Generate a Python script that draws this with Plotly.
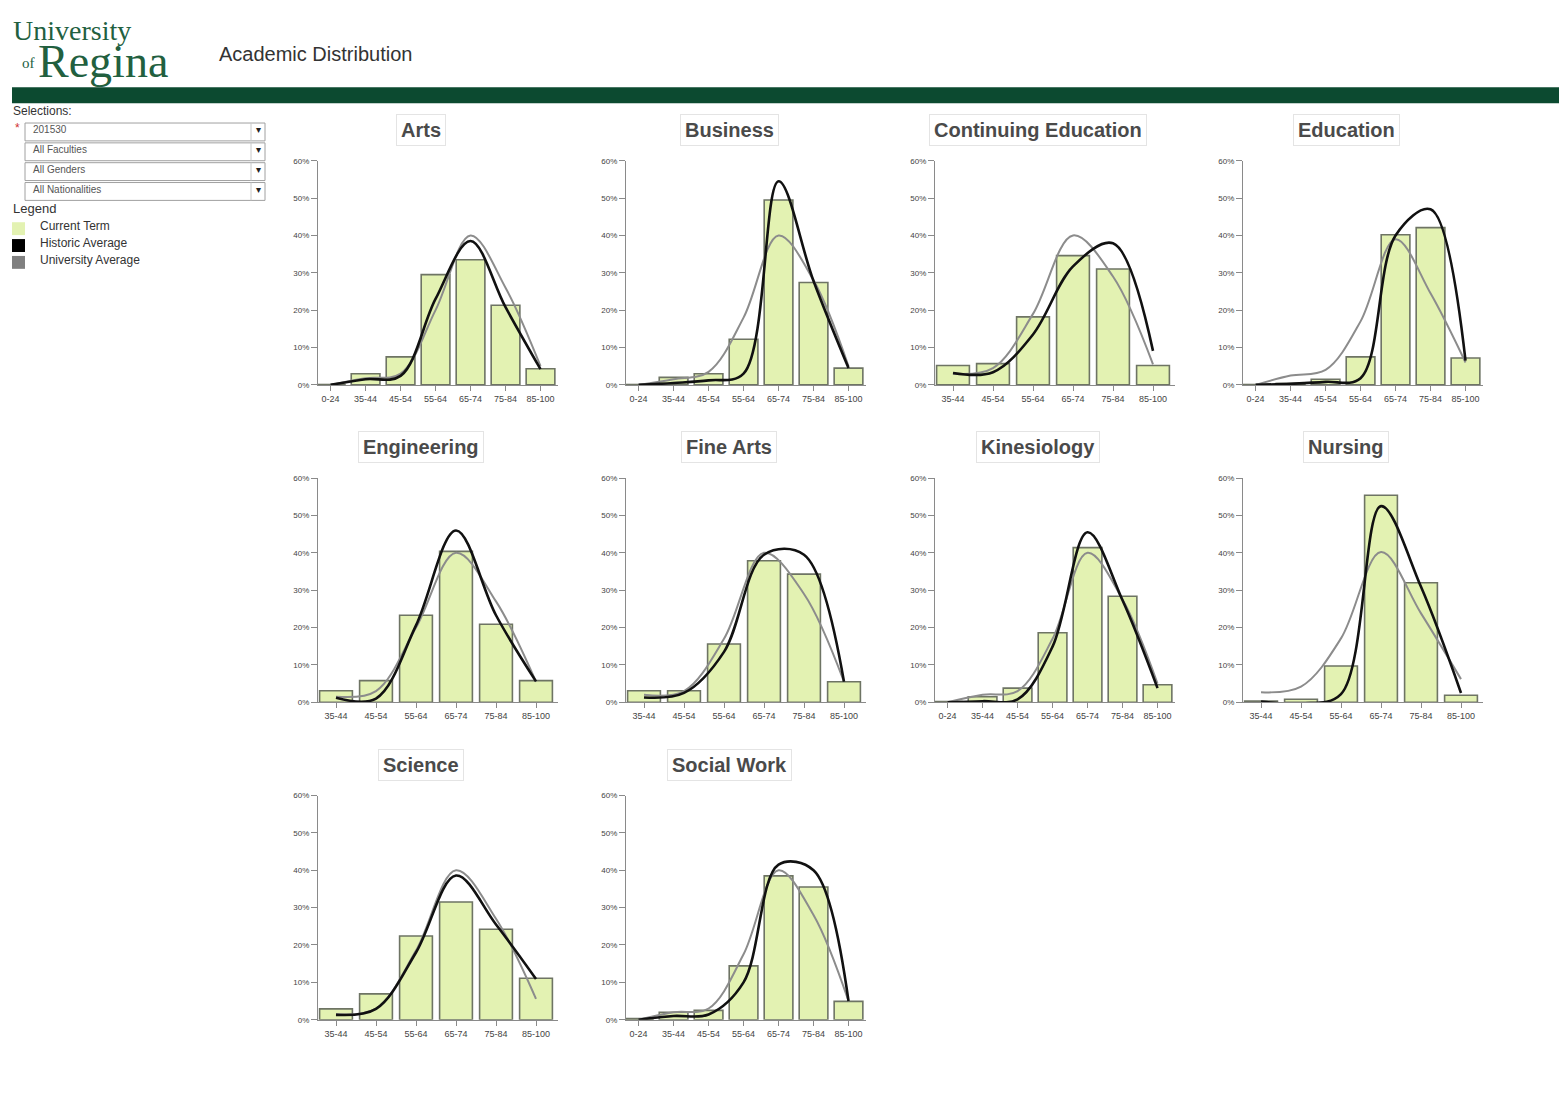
import plotly.graph_objects as go

W, H = 1559, 1110

# ---------------- data ----------------
CATS_7 = ["0-24", "35-44", "45-54", "55-64", "65-74", "75-84", "85-100"]
CATS_6 = ["35-44", "45-54", "55-64", "65-74", "75-84", "85-100"]
Y_TICKS = [0, 10, 20, 30, 40, 50, 60]
Y_TICK_TEXT = ["0%", "10%", "20%", "30%", "40%", "50%", "60%"]

ARTS_CURRENT = [0.1, 3.0, 7.5, 29.5, 33.5, 21.3, 4.3]
ARTS_HISTORIC = [0.0, 1.5, 2.4, 23.0, 38.5, 20.8, 4.2]
ARTS_UNIVERSITY = [0.0, 1.8, 3.0, 20.0, 40.0, 26.0, 5.0]

BUSINESS_CURRENT = [0.1, 2.0, 3.0, 12.2, 49.5, 27.4, 4.5]
BUSINESS_HISTORIC = [0.0, 0.5, 1.2, 3.0, 54.5, 27.8, 4.5]
BUSINESS_UNIVERSITY = [0.0, 1.5, 3.5, 18.0, 40.0, 28.0, 5.0]

CONTED_CURRENT = [5.2, 5.7, 18.2, 34.6, 31.0, 5.2]
CONTED_HISTORIC = [3.2, 3.4, 13.5, 31.7, 37.9, 9.1]
CONTED_UNIVERSITY = [3.0, 4.5, 19.0, 40.0, 29.0, 5.5]

EDUCATION_CURRENT = [0.1, 0.4, 1.5, 7.5, 40.2, 42.1, 7.2]
EDUCATION_HISTORIC = [0.0, 0.3, 0.8, 1.8, 40.0, 47.0, 6.5]
EDUCATION_UNIVERSITY = [0.0, 2.5, 4.0, 17.0, 39.0, 24.5, 6.0]

ENGINEERING_CURRENT = [3.1, 5.8, 23.3, 40.4, 20.9, 5.8]
ENGINEERING_HISTORIC = [1.2, 1.0, 20.6, 46.0, 23.3, 5.6]
ENGINEERING_UNIVERSITY = [1.5, 3.0, 20.0, 40.0, 27.0, 5.5]

FINEARTS_CURRENT = [3.1, 3.1, 15.6, 37.9, 34.3, 5.5]
FINEARTS_HISTORIC = [1.3, 2.5, 13.5, 39.5, 39.5, 5.5]
FINEARTS_UNIVERSITY = [2.0, 3.0, 17.0, 40.0, 29.0, 5.5]

KINESIOLOGY_CURRENT = [0.2, 1.5, 3.8, 18.6, 41.4, 28.4, 4.7]
KINESIOLOGY_HISTORIC = [0.0, 0.3, 0.8, 14.9, 45.5, 27.3, 3.8]
KINESIOLOGY_UNIVERSITY = [0.0, 2.0, 3.0, 17.0, 40.0, 27.5, 5.0]

NURSING_CURRENT = [0.3, 0.8, 9.7, 55.4, 32.0, 1.9]
NURSING_HISTORIC = [0.2, -0.3, 2.2, 52.5, 30.9, 2.5]
NURSING_UNIVERSITY = [2.7, 4.2, 17.1, 40.2, 23.8, 6.2]

SCIENCE_CURRENT = [2.9, 6.9, 22.4, 31.5, 24.2, 11.1]
SCIENCE_HISTORIC = [1.3, 2.9, 18.0, 38.6, 25.5, 10.9]
SCIENCE_UNIVERSITY = [1.5, 3.0, 18.5, 40.0, 27.0, 5.6]

SOCIALWORK_CURRENT = [0.3, 2.0, 2.5, 14.4, 38.5, 35.5, 4.9]
SOCIALWORK_HISTORIC = [0.0, 1.0, 1.4, 10.0, 41.5, 40.0, 5.0]
SOCIALWORK_UNIVERSITY = [0.0, 2.0, 3.0, 17.5, 40.0, 28.0, 5.0]

FACULTY_NAMES = ["Arts", "Business", "Continuing Education", "Education",
                 "Engineering", "Fine Arts", "Kinesiology", "Nursing",
                 "Science", "Social Work"]

SELECTION_VALUES = ["201530", "All Faculties", "All Genders", "All Nationalities"]
LEGEND_LABELS = ["Current Term", "Historic Average", "University Average"]

# ------------- assemble -------------
faculties = [
    (FACULTY_NAMES[0], CATS_7, ARTS_CURRENT, ARTS_HISTORIC, ARTS_UNIVERSITY),
    (FACULTY_NAMES[1], CATS_7, BUSINESS_CURRENT, BUSINESS_HISTORIC, BUSINESS_UNIVERSITY),
    (FACULTY_NAMES[2], CATS_6, CONTED_CURRENT, CONTED_HISTORIC, CONTED_UNIVERSITY),
    (FACULTY_NAMES[3], CATS_7, EDUCATION_CURRENT, EDUCATION_HISTORIC, EDUCATION_UNIVERSITY),
    (FACULTY_NAMES[4], CATS_6, ENGINEERING_CURRENT, ENGINEERING_HISTORIC, ENGINEERING_UNIVERSITY),
    (FACULTY_NAMES[5], CATS_6, FINEARTS_CURRENT, FINEARTS_HISTORIC, FINEARTS_UNIVERSITY),
    (FACULTY_NAMES[6], CATS_7, KINESIOLOGY_CURRENT, KINESIOLOGY_HISTORIC, KINESIOLOGY_UNIVERSITY),
    (FACULTY_NAMES[7], CATS_6, NURSING_CURRENT, NURSING_HISTORIC, NURSING_UNIVERSITY),
    (FACULTY_NAMES[8], CATS_6, SCIENCE_CURRENT, SCIENCE_HISTORIC, SCIENCE_UNIVERSITY),
    (FACULTY_NAMES[9], CATS_7, SOCIALWORK_CURRENT, SOCIALWORK_HISTORIC, SOCIALWORK_UNIVERSITY),
]

BAR_FILL = "#e3f2b2"
BAR_LINE = "#6e7464"
HIST_COLOR = "#111111"
UNIV_COLOR = "#8c8c8c"
AXIS_COLOR = "#8a8a8a"
GREEN = "#0c4a30"
LOGO_GREEN = "#22603f"
TEXT_SHIFT = 2  # visual centre correction for text annotations


def px(x):
    return x / W


def py(y):
    return 1 - y / H


def ty(y):
    return py(y - TEXT_SHIFT)


fig = go.Figure()
layout = {}
annotations = []
shapes = []

COL_X = [318, 626, 935, 1243]
ROW_ZERO = [384, 704, 1024]
PLOT_W = 240
PLOT_H = 226

for i, (name, cats, cur, hist, univ) in enumerate(faculties):
    n = i + 1
    row, col = divmod(i, 4)
    xa = "x" if n == 1 else f"x{n}"
    ya = "y" if n == 1 else f"y{n}"
    x0 = COL_X[col]
    y0 = ROW_ZERO[row]

    fig.add_trace(go.Bar(x=cats, y=cur, xaxis=xa, yaxis=ya, width=0.82,
                         marker=dict(color=BAR_FILL, line=dict(color=BAR_LINE, width=1.6)),
                         showlegend=False, hoverinfo="skip"))
    fig.add_trace(go.Scatter(x=cats, y=univ, xaxis=xa, yaxis=ya, mode="lines",
                             line=dict(color=UNIV_COLOR, width=2, shape="spline", smoothing=1.0),
                             showlegend=False, hoverinfo="skip"))
    fig.add_trace(go.Scatter(x=cats, y=hist, xaxis=xa, yaxis=ya, mode="lines",
                             line=dict(color=HIST_COLOR, width=2.6, shape="spline", smoothing=1.0),
                             showlegend=False, hoverinfo="skip"))

    if len(cats) == 7:
        xr = [-0.36, 6.5]
    else:
        xr = [-0.45, 5.55]

    key_x = "xaxis" if n == 1 else f"xaxis{n}"
    key_y = "yaxis" if n == 1 else f"yaxis{n}"
    layout[key_x] = dict(domain=[px(x0), px(x0 + PLOT_W)], anchor=ya, type="category",
                         categoryorder="array", categoryarray=cats, range=xr,
                         showline=True, linecolor=AXIS_COLOR, linewidth=1.2,
                         ticks="outside", ticklen=5, tickcolor=AXIS_COLOR,
                         tickfont=dict(size=9, color="#444", family="Liberation Sans"),
                         showgrid=False, zeroline=False, fixedrange=True)
    layout[key_y] = dict(domain=[py(y0), py(y0 - PLOT_H)], anchor=xa, range=[0, 60],
                         tickvals=Y_TICKS, ticktext=Y_TICK_TEXT,
                         showline=True, linecolor=AXIS_COLOR, linewidth=1.2,
                         ticks="outside", ticklen=6, tickcolor=AXIS_COLOR,
                         tickfont=dict(size=8, color="#444", family="Liberation Sans"),
                         showgrid=False, zeroline=False, fixedrange=True)

    annotations.append(dict(xref="paper", yref="paper", x=px(x0 + 103), y=ty(y0 - 255),
                            text=f"<b>{name}</b>", showarrow=False, xanchor="center", yanchor="middle",
                            font=dict(size=20, color="#4a4a4a", family="Liberation Sans"),
                            bordercolor="#e4e4e4", borderwidth=1, borderpad=4, bgcolor="white"))

# ---------------- header ----------------
annotations.append(dict(xref="paper", yref="paper", x=px(11), y=ty(29), text="University",
                        showarrow=False, xanchor="left", yanchor="middle",
                        font=dict(size=28, color=LOGO_GREEN, family="Liberation Serif")))
annotations.append(dict(xref="paper", yref="paper", x=px(37), y=ty(61), text="of",
                        showarrow=False, xanchor="right", yanchor="middle",
                        font=dict(size=15, color=LOGO_GREEN, family="Liberation Serif")))
annotations.append(dict(xref="paper", yref="paper", x=px(36), y=ty(60), text="Regina",
                        showarrow=False, xanchor="left", yanchor="middle",
                        font=dict(size=46, color=LOGO_GREEN, family="Liberation Serif")))
annotations.append(dict(xref="paper", yref="paper", x=px(217), y=ty(52), text="Academic Distribution",
                        showarrow=False, xanchor="left", yanchor="middle",
                        font=dict(size=20, color="#333", family="Liberation Sans")))
shapes.append(dict(type="rect", xref="paper", yref="paper", x0=px(12), x1=1, y0=py(100), y1=py(84),
                   fillcolor=GREEN, line=dict(width=0), layer="below"))

# ---------------- left panel ----------------
annotations.append(dict(xref="paper", yref="paper", x=px(11), y=ty(110), text="Selections:",
                        showarrow=False, xanchor="left", yanchor="middle",
                        font=dict(size=12, color="#333", family="Liberation Sans")))
annotations.append(dict(xref="paper", yref="paper", x=px(13), y=ty(127), text="*",
                        showarrow=False, xanchor="left", yanchor="middle",
                        font=dict(size=12, color="#d03030", family="Liberation Sans")))
for k, val in enumerate(SELECTION_VALUES):
    top = 120 + 20 * k
    shapes.append(dict(type="rect", xref="paper", yref="paper", x0=px(25), x1=px(265),
                       y0=py(top + 18), y1=py(top), fillcolor="white",
                       line=dict(color="#a0a0a0", width=1)))
    shapes.append(dict(type="line", xref="paper", yref="paper", x0=px(251), x1=px(251),
                       y0=py(top + 18), y1=py(top), line=dict(color="#c8c8c8", width=1)))
    annotations.append(dict(xref="paper", yref="paper", x=px(31), y=ty(top + 9), text=val,
                            showarrow=False, xanchor="left", yanchor="middle",
                            font=dict(size=10, color="#555", family="Liberation Sans")))
    annotations.append(dict(xref="paper", yref="paper", x=px(258), y=ty(top + 9), text="▾",
                            showarrow=False, xanchor="center", yanchor="middle",
                            font=dict(size=10, color="#222", family="DejaVu Sans")))

annotations.append(dict(xref="paper", yref="paper", x=px(11), y=ty(208), text="Legend",
                        showarrow=False, xanchor="left", yanchor="middle",
                        font=dict(size=13, color="#333", family="Liberation Sans")))
legend_colors = [BAR_FILL, "#000000", "#808080"]
for k, (lab, colr) in enumerate(zip(LEGEND_LABELS, legend_colors)):
    cy = 226 + 17 * k
    shapes.append(dict(type="rect", xref="paper", yref="paper", x0=px(12), x1=px(25),
                       y0=py(cy + 7), y1=py(cy - 6), fillcolor=colr, line=dict(width=0)))
    annotations.append(dict(xref="paper", yref="paper", x=px(38), y=ty(cy), text=lab,
                            showarrow=False, xanchor="left", yanchor="middle",
                            font=dict(size=12, color="#333", family="Liberation Sans")))

fig.update_layout(**layout)
fig.update_layout(width=W, height=H, margin=dict(l=0, r=0, t=0, b=0),
                  paper_bgcolor="white", plot_bgcolor="white",
                  annotations=annotations, shapes=shapes, showlegend=False,
                  bargap=0.18, font=dict(family="Liberation Sans"))

fig.write_html("out.html", config={"displayModeBar": False},
               post_script="document.body.style.margin='0';")
